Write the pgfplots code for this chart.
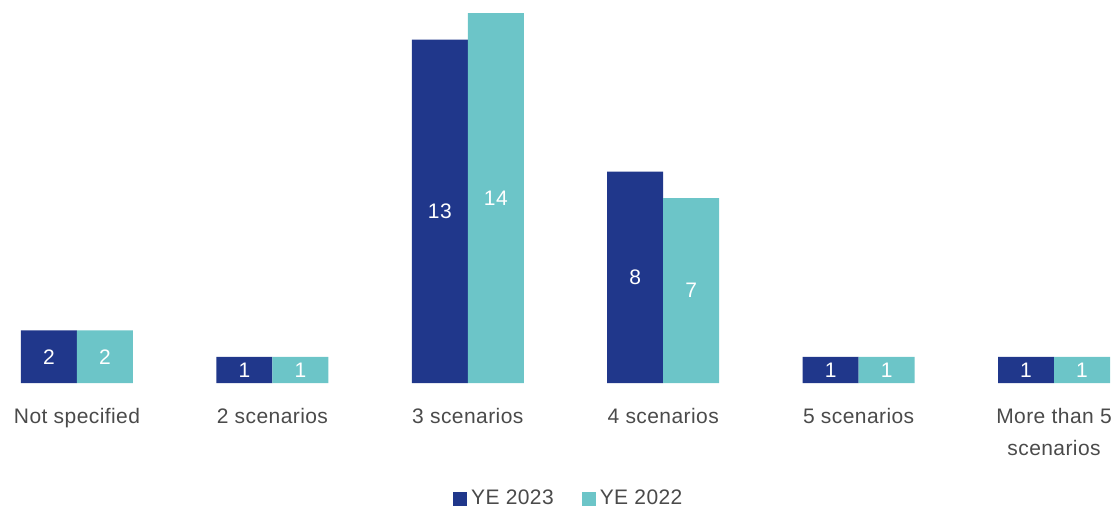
\documentclass[border=0pt]{standalone}
\usepackage{pgfplots}
\pgfplotsset{compat=1.18}
\usepackage{fontspec}
\setmainfont{Liberation Sans}[LetterSpace=2]
\definecolor{ye23}{HTML}{20378B}
\definecolor{ye22}{HTML}{6CC5C8}
\definecolor{txt}{HTML}{4A4A4A}
\begin{document}
\fontsize{10.5}{12}\selectfont
\begin{tikzpicture}
\begin{axis}[
    ybar=0pt,
    bar width=28pt,
    scale only axis,
    width=557.5pt,
    height=191.5pt,
    xmin=-0.394, xmax=5.312,
    ymin=0, ymax=14.49,
    axis line style={draw=none},
    ytick=\empty,
    xtick={0,...,5},
    xticklabels={Not specified,2 scenarios,3 scenarios,4 scenarios,5 scenarios,More than 5\\scenarios},
    major tick length=0pt,
    xticklabel style={align=center, text=txt, inner sep=0pt, yshift=-12.5pt, font=\fontsize{10.5}{16}\selectfont},
    /pgf/number format/assume math mode=true,
    visualization depends on=y \as \rawy,
    nodes near coords,
    every node near coord/.append style={anchor=center, text=white, font=\fontsize{10.5}{12}\selectfont,
        shift={(axis direction cs:0,-\rawy/2)}},
    legend style={draw=none, at={(0.511,-0.302)}, anchor=center, legend columns=2,
        font=\fontsize{10.5}{12}\selectfont, text=txt,
        /tikz/every even column/.append style={column sep=12pt}},
    legend image code/.code={\fill[#1] (0pt,-3.5pt) rectangle (7pt,3.5pt);},
]
\addplot[fill=ye23, draw=none] coordinates {(0,2) (1,1) (2,13) (3,8) (4,1) (5,1)};
\addplot[fill=ye22, draw=none] coordinates {(0,2) (1,1) (2,14) (3,7) (4,1) (5,1)};
\legend{YE 2023,YE 2022}
\end{axis}
\end{tikzpicture}
\end{document}
